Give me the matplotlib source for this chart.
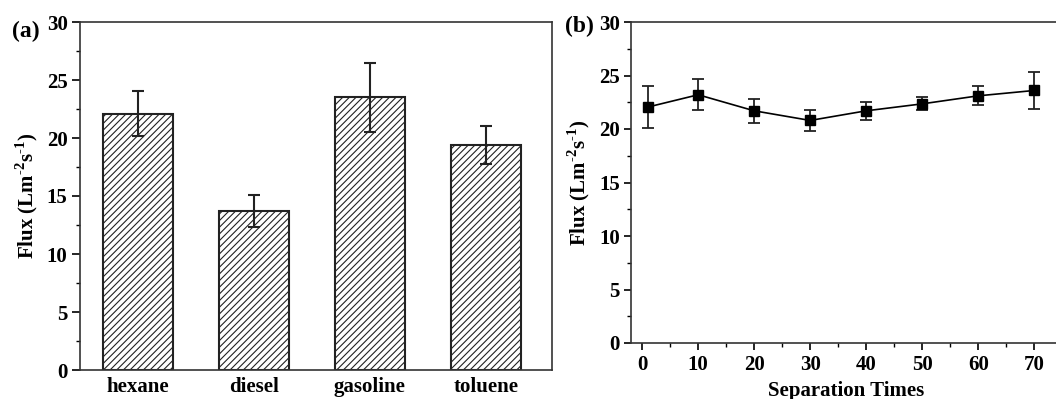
import matplotlib
matplotlib.use("Agg")
import matplotlib.pyplot as plt
import numpy as np
from matplotlib.ticker import MultipleLocator

plt.rcParams['font.family'] = ['Liberation Serif', 'DejaVu Serif']
plt.rcParams['font.weight'] = 'bold'
plt.rcParams['hatch.linewidth'] = 0.8
plt.rcParams['hatch.color'] = '#333333'
plt.rcParams['mathtext.fontset'] = 'custom'
plt.rcParams['mathtext.rm'] = 'Liberation Serif:bold'
plt.rcParams['mathtext.bf'] = 'Liberation Serif:bold'

# Panel (a)
solvents = ["hexane", "diesel", "gasoline", "toluene"]
flux_a = [22.1, 13.7, 23.5, 19.4]
err_a = [1.95, 1.4, 3.0, 1.6]

# Panel (b)
times = [1, 10, 20, 30, 40, 50, 60, 70]
flux_b = [22.05, 23.2, 21.7, 20.8, 21.7, 22.35, 23.1, 23.6]
err_b = [1.95, 1.45, 1.15, 1.0, 0.85, 0.6, 0.9, 1.75]

W, H = 1056, 399
fig = plt.figure(figsize=(W/100, H/100), dpi=100)

def frac(x0, y0, x1, y1):
    return [x0/W, 1 - y1/H, (x1 - x0)/W, (y1 - y0)/H]

fs = 15
ylabel = 'Flux (Lm$^{\\mathregular{\u20102}}$s$^{\\mathregular{\u20101}}$)'

ax1 = fig.add_axes(frac(80, 22, 552, 370))
xa = np.arange(len(solvents))
ax1.bar(xa, flux_a, width=0.6, color='white', edgecolor='#222222', linewidth=1.5, hatch='/////')
ax1.errorbar(xa, flux_a, yerr=err_a, fmt='none', ecolor='#222222', elinewidth=1.5, capsize=4, capthick=1.5)
ax1.set_xlim(-0.5, 3.57)
ax1.set_ylim(0, 30)
ax1.set_xticks(xa)
ax1.set_xticklabels(solvents, fontsize=fs, fontweight='bold')
ax1.tick_params(axis='x', length=0, pad=5)
ax1.yaxis.set_major_locator(MultipleLocator(5))
ax1.yaxis.set_minor_locator(MultipleLocator(2.5))
ax1.tick_params(axis='y', which='major', direction='out', length=6, width=1.2, labelsize=fs, pad=3)
ax1.tick_params(axis='y', which='minor', direction='out', length=3, width=1.0)
ax1.set_ylabel(ylabel, fontsize=fs, fontweight='bold', labelpad=5)
for s in ax1.spines.values():
    s.set_linewidth(1.2)
    s.set_color('#333333')
fig.text(12/W, 1 - 31/H, '(a)', fontsize=17, fontweight='bold', va='center', ha='left')

ax2 = fig.add_axes(frac(631, 22, 631 + 77*5.6, 343))
ax2.errorbar(times, flux_b, yerr=err_b, fmt='-s', color='black', lw=1.2, ms=7,
             ecolor='#222222', elinewidth=1.3, capsize=4, capthick=1.3)
ax2.set_xlim(-2, 75)
ax2.set_ylim(0, 30)
ax2.xaxis.set_major_locator(MultipleLocator(10))
ax2.xaxis.set_minor_locator(MultipleLocator(5))
ax2.yaxis.set_major_locator(MultipleLocator(5))
ax2.yaxis.set_minor_locator(MultipleLocator(2.5))
ax2.tick_params(which='major', direction='out', length=5, width=1.2, labelsize=fs, pad=3)
ax2.tick_params(axis='x', which='major', pad=4)
ax2.tick_params(which='minor', direction='out', length=3, width=1.0)
ax2.set_xlabel('Separation Times', fontsize=fs, fontweight='bold', labelpad=4)
ax2.set_ylabel(ylabel, fontsize=fs, fontweight='bold', labelpad=5)
for s in ax2.spines.values():
    s.set_linewidth(1.2)
    s.set_color('#333333')
fig.text(565/W, 1 - 26/H, '(b)', fontsize=17, fontweight='bold', va='center', ha='left')

fig.savefig('out.png', dpi=100)
